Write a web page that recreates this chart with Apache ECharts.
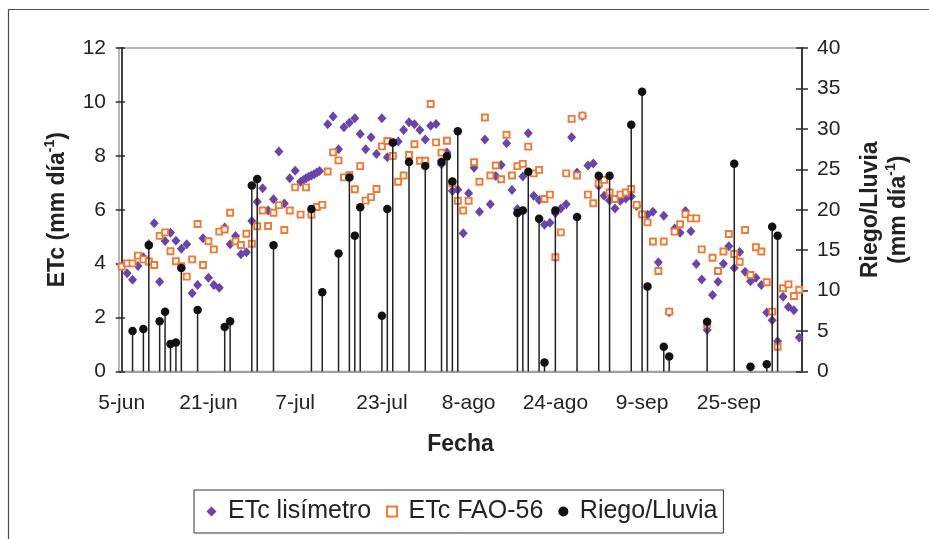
<!DOCTYPE html>
<html lang="es">
<head>
<meta charset="utf-8">
<title>ETc lisímetro, ETc FAO-56 y Riego/Lluvia</title>
<script src="https://cdn.jsdelivr.net/npm/echarts/dist/echarts.min.js"></script>
<style>
  html, body { margin: 0; padding: 0; background: #fff; }
  #chart { width: 929px; height: 539px; }
</style>
</head>
<body>
<div id="chart"></div>
<script>
// Días contados desde el 5 de junio (día 0) hasta el 8 de octubre (día 125)
const diasEtiqueta = [0, 16, 32, 48, 64, 80, 96, 112];
const etiquetasFecha = ['5-jun', '21-jun', '7-jul', '23-jul', '8-ago', '24-ago', '9-sep', '25-sep'];

// ETc medida en el lisímetro (mm/día): [día, valor]
const etcLisimetro = [
  [0, 3.91], [1, 3.64], [2, 3.40], [3, 3.91], [4, 4.24], [5, 4.73], [6, 5.50], [7, 3.33],
  [8, 4.84], [9, 5.15], [10, 4.85], [11, 4.55], [12, 4.72], [13, 2.90], [14, 3.21], [15, 4.94],
  [16, 3.48], [17, 3.21], [18, 3.11], [19, 5.34], [20, 4.72], [21, 5.03], [22, 4.35], [23, 4.42],
  [24, 5.58], [25, 6.30], [26, 6.80], [27, 5.97], [28, 6.39], [29, 8.16], [30, 6.23], [31, 7.17],
  [32, 7.45], [33, 7.04], [33.5, 7.10], [34, 7.17], [34.5, 7.22], [35, 7.27], [35.5, 7.32],
  [36, 7.38], [36.5, 7.44], [38, 9.17], [39, 9.46], [40, 8.24], [41, 9.06], [42, 9.23],
  [43, 9.39], [44, 8.81], [45, 8.24], [46, 8.69], [47, 8.07], [48, 9.39], [49, 7.95], [50, 8.00],
  [51, 8.53], [52, 8.96], [53, 9.25], [54, 9.17], [55, 8.96], [56, 8.61], [57, 9.12], [58, 9.18],
  [59, 7.69], [60, 8.12], [61, 6.70], [62, 6.74], [63, 5.13], [64, 6.61], [65, 7.56], [66, 5.93],
  [67, 8.61], [68, 6.20], [69, 7.25], [70, 7.66], [71, 8.47], [72, 6.73], [73, 6.03], [74, 7.23],
  [75, 8.84], [76, 6.52], [77, 6.36], [78, 5.44], [79, 5.52], [80, 5.87], [81, 6.05], [82, 6.20],
  [83, 8.69], [84, 7.38], [85, 9.48], [86, 7.64], [87, 7.72], [88, 6.88], [89, 6.52], [90, 6.34],
  [91, 6.05], [92, 6.33], [93, 6.42], [94, 6.49], [95, 6.14], [97, 5.81], [98, 5.93], [99, 4.05],
  [100, 5.78], [101, 2.20], [102, 5.30], [103, 5.15], [104, 5.95], [105, 5.20], [106, 3.99],
  [107, 3.41], [108, 1.54], [109, 2.84], [110, 3.33], [111, 4.00], [112, 4.65], [113, 3.84],
  [114, 4.43], [115, 3.70], [116, 3.35], [117, 3.48], [118, 3.21], [119, 2.19], [120, 1.90],
  [121, 1.12], [122, 2.77], [123, 2.39], [124, 2.27], [125, 1.26]
];

// ETc estimada con FAO-56 (mm/día), un valor por día a partir del día 0
const etcFao56 = [
  3.89, 4.01, 4.01, 4.30, 4.16, 4.08, 3.95, 5.03, 5.16, 4.46,
  4.09, 3.91, 3.52, 4.16, 5.47, 3.95, 4.83, 4.53, 5.19, 5.27,
  5.89, 4.83, 4.69, 5.11, 4.74, 5.39, 5.97, 5.40, 5.89, 6.17,
  5.25, 5.97, 6.83, 5.82, 6.83, 5.82, 6.10, 6.18, 7.42, 8.13,
  7.83, 7.20, 7.28, 6.76, 7.62, 6.34, 6.47, 6.77, 8.35, 8.55,
  8.00, 7.04, 7.27, 8.03, 8.43, 7.82, 7.82, 9.92, 8.50, 8.12,
  8.56, 6.98, 6.33, 5.97, 6.33, 7.76, 7.04, 9.42, 7.27, 7.64,
  7.13, 8.78, 7.27, 7.62, 7.70, 8.34, 7.35, 7.48, 6.40, 6.56,
  4.24, 5.16, 7.35, 9.37, 7.27, 9.49, 6.56, 6.24, 6.98, 7.11,
  6.64, 6.40, 6.56, 6.64, 6.77, 6.18, 5.83, 5.53, 4.82, 3.73,
  4.82, 2.22, 5.19, 5.46, 5.83, 5.68, 5.68, 4.53, 1.75, 4.22,
  3.73, 4.45, 5.10, 4.36, 4.07, 5.25, 3.58, 4.61, 4.45, 3.31,
  2.22, 0.92, 3.09, 3.23, 2.80, 3.03
];

// Riego + lluvia (mm/día): [día, valor]
const riegoLluvia = [
  [2, 5.0], [4, 5.25], [5, 15.6], [7, 6.2], [8, 7.4], [9, 3.4], [10, 3.6], [11, 12.8],
  [14, 7.6], [19, 5.5], [20, 6.2], [24, 23.0], [25, 23.8], [28, 15.6], [35, 20.1], [37, 9.8],
  [40, 14.6], [42, 24.0], [43, 16.8], [44, 20.3], [48, 6.9], [49, 20.1], [50, 28.3], [53, 25.9],
  [56, 25.4], [59, 25.9], [60, 26.6], [61, 23.5], [62, 29.7], [73, 19.6], [74, 19.9], [75, 24.7],
  [77, 18.9], [78, 1.1], [80, 19.9], [84, 19.1], [88, 24.2], [90, 24.2], [94, 30.5], [96, 34.6],
  [97, 10.5], [100, 3.05], [101, 1.84], [108, 6.16], [113, 25.7], [116, 0.6], [119, 0.89],
  [120, 17.9], [121, 16.8]
];

const FONT = '"Liberation Sans", Arial, Helvetica, sans-serif';
const INK = '#222222';
const AXIS_DARK = '#2b2b2b';
const AXIS_GREY = '#a39f9f';

const faoPares = etcFao56.map((v, d) => [d, v]);

const chart = echarts.init(document.getElementById('chart'), null, { renderer: 'canvas' });

const supRich = {
  t: { fontFamily: FONT, fontSize: 23, fontWeight: 'bold', color: INK, lineHeight: 28, verticalAlign: 'bottom' },
  s: { fontFamily: FONT, fontSize: 14, fontWeight: 'bold', color: INK, lineHeight: 14, padding: [0, 0, 12, 0], verticalAlign: 'bottom' }
};

chart.setOption({
  animation: false,
  backgroundColor: '#ffffff',
  textStyle: { fontFamily: FONT, color: INK },
  graphic: [{
    type: 'rect',
    silent: true,
    shape: { x: 8.5, y: 9.5, width: 1000, height: 1000 },
    style: { fill: 'none', stroke: '#4a4a4a', lineWidth: 1.2 }
  }],
  grid: {
    left: 119, right: 127, top: 48, bottom: 167.5,
    show: true, borderColor: AXIS_GREY, borderWidth: 1.5, backgroundColor: 'transparent'
  },
  legend: {
    data: [
      { name: 'ETc lisímetro', icon: 'diamond' },
      { name: 'ETc FAO-56', icon: 'rect' },
      { name: 'Riego/Lluvia', icon: 'circle' }
    ],
    left: 194, top: 490,
    orient: 'horizontal',
    itemWidth: 10, itemHeight: 10, itemGap: 15,
    padding: [9, 6, 9, 12.5],
    borderColor: '#333333', borderWidth: 1,
    textStyle: { fontFamily: FONT, fontSize: 25, color: INK, padding: [0, 0, 0, 6.5] }
  },
  xAxis: {
    type: 'value',
    min: -0.5, max: 125.5,
    axisLine: { show: true, lineStyle: { color: AXIS_GREY, width: 2 } },
    axisTick: { show: false },
    splitLine: { show: false },
    axisLabel: {
      customValues: diasEtiqueta,
      formatter: v => etiquetasFecha[diasEtiqueta.indexOf(v)] || '',
      fontFamily: FONT, fontSize: 21, color: INK, margin: 21
    },
    name: 'Fecha', nameLocation: 'middle', nameGap: 62,
    nameTextStyle: { fontFamily: FONT, fontSize: 23, fontWeight: 'bold', color: INK }
  },
  yAxis: [
    {
      type: 'value', position: 'left', min: 0, max: 12, interval: 2,
      axisLine: { show: true, lineStyle: { color: AXIS_DARK, width: 1.8 } },
      axisTick: { show: true, inside: false, length: 6, lineStyle: { color: AXIS_DARK, width: 1.5 } },
      axisLabel: { fontFamily: FONT, fontSize: 21, color: INK, margin: 13 },
      splitLine: { show: false },
      name: '{t|ETc (mm día}{s|-1}{t|)}',
      nameLocation: 'middle', nameRotate: 90, nameGap: 50,
      nameTextStyle: { rich: supRich }
    },
    {
      type: 'value', position: 'right', min: 0, max: 40, interval: 5,
      axisLine: { show: true, lineStyle: { color: AXIS_DARK, width: 1.8 } },
      axisTick: { show: true, inside: false, length: 6, lineStyle: { color: AXIS_DARK, width: 1.5 } },
      axisLabel: { fontFamily: FONT, fontSize: 21, color: INK, margin: 15 },
      splitLine: { show: false },
      name: '{t|Riego/Lluvia}\n{t|(mm día}{s|-1}{t|)}',
      nameLocation: 'middle', nameRotate: 90, nameGap: 52,
      nameTextStyle: { rich: supRich }
    },
    // inner half of the crossing tick marks on both vertical axes
    {
      type: 'value', position: 'left', min: 0, max: 12, interval: 2,
      axisLine: { show: false },
      axisTick: { show: true, inside: true, length: 6, lineStyle: { color: AXIS_DARK, width: 1.5 } },
      axisLabel: { show: false }, splitLine: { show: false }
    },
    {
      type: 'value', position: 'right', min: 0, max: 40, interval: 5,
      axisLine: { show: false },
      axisTick: { show: true, inside: true, length: 6, lineStyle: { color: AXIS_DARK, width: 1.5 } },
      axisLabel: { show: false }, splitLine: { show: false }
    }
  ],
  series: [
    {
      name: 'ETc lisímetro', type: 'scatter', yAxisIndex: 0,
      symbol: 'diamond', symbolSize: [9, 10],
      itemStyle: { color: '#6846a8', opacity: 1 },
      data: etcLisimetro, z: 2
    },
    {
      name: 'ETc FAO-56', type: 'scatter', yAxisIndex: 0,
      symbol: 'rect', symbolSize: 6,
      itemStyle: { color: '#ffffff', borderColor: '#ef7a35', borderWidth: 1.9, opacity: 1 },
      data: faoPares, z: 3
    },
    {
      name: 'riegoTallos', type: 'bar', yAxisIndex: 1,
      barWidth: 1.5, silent: true,
      itemStyle: { color: '#222222' },
      data: riegoLluvia, z: 4
    },
    {
      name: 'Riego/Lluvia', type: 'scatter', yAxisIndex: 1,
      symbol: 'circle', symbolSize: 8.5,
      itemStyle: { color: '#111111', opacity: 1 },
      data: riegoLluvia, z: 5
    }
  ]
});
</script>
</body>
</html>
